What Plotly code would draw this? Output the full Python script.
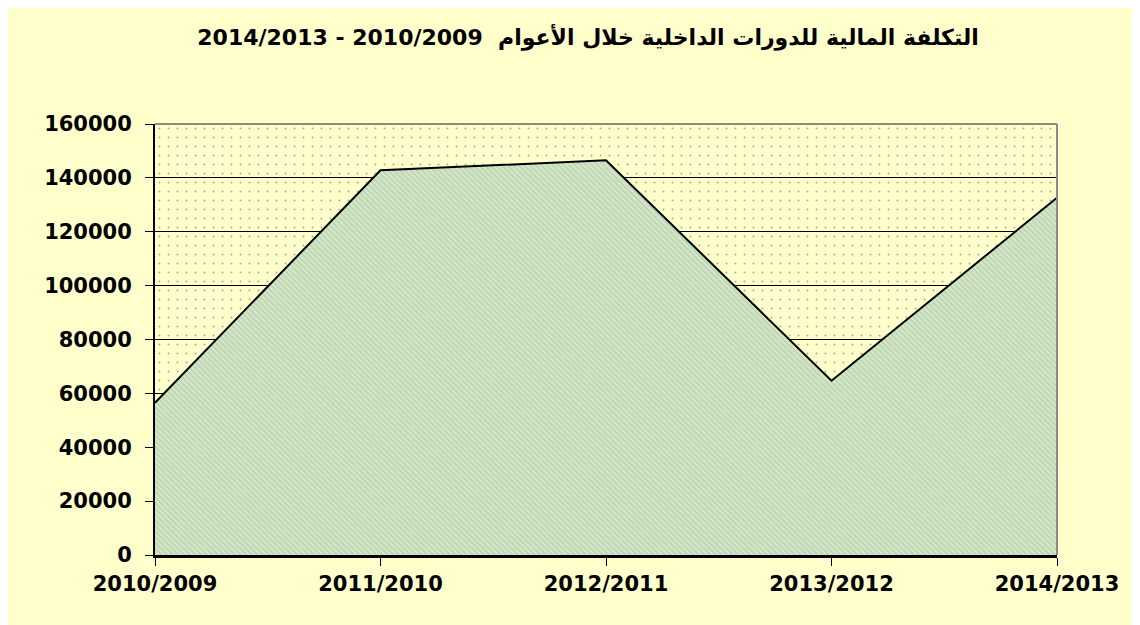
import plotly.graph_objects as go

# ---- data ----
categories = ["2010/2009", "2011/2010", "2012/2011", "2013/2012", "2014/2013"]
costs = [56500, 142800, 146500, 64700, 132600]
y_max = 160000
y_step = 20000
title_text = "2014/2013 - 2010/2009  التكلفة المالية للدورات الداخلية خلال الأعوام"

# ---- layout constants (screen pixels; page body has an 8px margin) ----
OFF = 8
W, H = 1140 - OFF, 625 - OFF
PL, PR, PT, PB = 155, 1057, 124, 555          # plot area on screen
ML, MR, MT, MB = PL - OFF, W - (PR - OFF), PT - OFF, H - (PB - OFF)
PW, PH = W - ML - MR, H - MT - MB

def px_x(p):
    return (p - OFF - ML) / PW

def px_y(p):
    return 1 - (p - OFF - MT) / PH

fig = go.Figure()

# dotted plot-area background
fig.add_trace(go.Scatter(
    x=categories, y=[y_max] * len(categories),
    mode="lines", line=dict(width=0), fill="tozeroy",
    fillcolor="rgba(0,0,0,0)",
    fillpattern=dict(shape=".", fgcolor="#55553f", bgcolor="rgba(0,0,0,0)",
                     size=9, solidity=0.035),
    hoverinfo="skip", showlegend=False,
))

# area series
fig.add_trace(go.Scatter(
    x=categories, y=costs,
    mode="lines", line=dict(color="black", width=2),
    fill="tozeroy",
    fillpattern=dict(shape="\\", fgcolor="#84bff0", bgcolor="#eef0a4",
                     size=4, solidity=0.7),
    showlegend=False,
))

FONT = "DejaVu Sans, Arial, sans-serif"
bold = dict(family=FONT, size=21, color="black", weight="bold")

fig.update_layout(
    width=W, height=H,
    margin=dict(l=ML, r=MR, t=MT, b=MB),
    paper_bgcolor="#ffffcc",
    plot_bgcolor="#ffffcc",
    title=dict(text=title_text, x=(588 - OFF) / W, xanchor="center",
               y=1 - (37 - OFF) / H, yanchor="middle",
               font=dict(family=FONT, size=22, color="black", weight="bold")),
    xaxis=dict(type="category", range=[0, len(categories) - 1],
               showgrid=False, ticks="outside", ticklen=8, tickcolor="black",
               tickwidth=1, showline=True, linecolor="black", linewidth=3,
               tickfont=bold, zeroline=False),
    yaxis=dict(range=[0, y_max], dtick=y_step, tickformat="d",
               showgrid=True, gridcolor="black", gridwidth=1,
               ticks="outside", ticklen=8, tickcolor="black", tickwidth=1,
               ticklabelstandoff=9,
               showline=True, linecolor="black", linewidth=2,
               tickfont=bold, zeroline=False),
    shapes=[
        # tan strip at top / left and outer black frame
        dict(type="rect", xref="paper", yref="paper", layer="below",
             x0=px_x(0), x1=px_x(1150), y0=px_y(5), y1=px_y(0),
             fillcolor="#e9c2a6", line=dict(width=0)),
        dict(type="rect", xref="paper", yref="paper", layer="below",
             x0=px_x(0), x1=px_x(6), y0=px_y(630), y1=px_y(0),
             fillcolor="#e9c2a6", line=dict(width=0)),
        dict(type="rect", xref="paper", yref="paper", layer="below",
             x0=px_x(0), x1=px_x(6), y0=px_y(630), y1=px_y(430),
             fillcolor="#d3864c", line=dict(width=0)),
        dict(type="line", xref="paper", yref="paper", layer="below",
             x0=px_x(6), x1=px_x(1150), y0=px_y(5), y1=px_y(5),
             line=dict(color="black", width=2)),
        dict(type="line", xref="paper", yref="paper", layer="below",
             x0=px_x(6), x1=px_x(6), y0=px_y(630), y1=px_y(5),
             line=dict(color="black", width=2)),
        # plot area gray border top/right
        dict(type="line", xref="paper", yref="paper", x0=0, x1=1, y0=1, y1=1,
             line=dict(color="#8a8a8a", width=2)),
        dict(type="line", xref="paper", yref="paper", x0=1, x1=1, y0=0, y1=1,
             line=dict(color="#8a8a8a", width=2)),
    ],
)

fig.write_html("out.html")
